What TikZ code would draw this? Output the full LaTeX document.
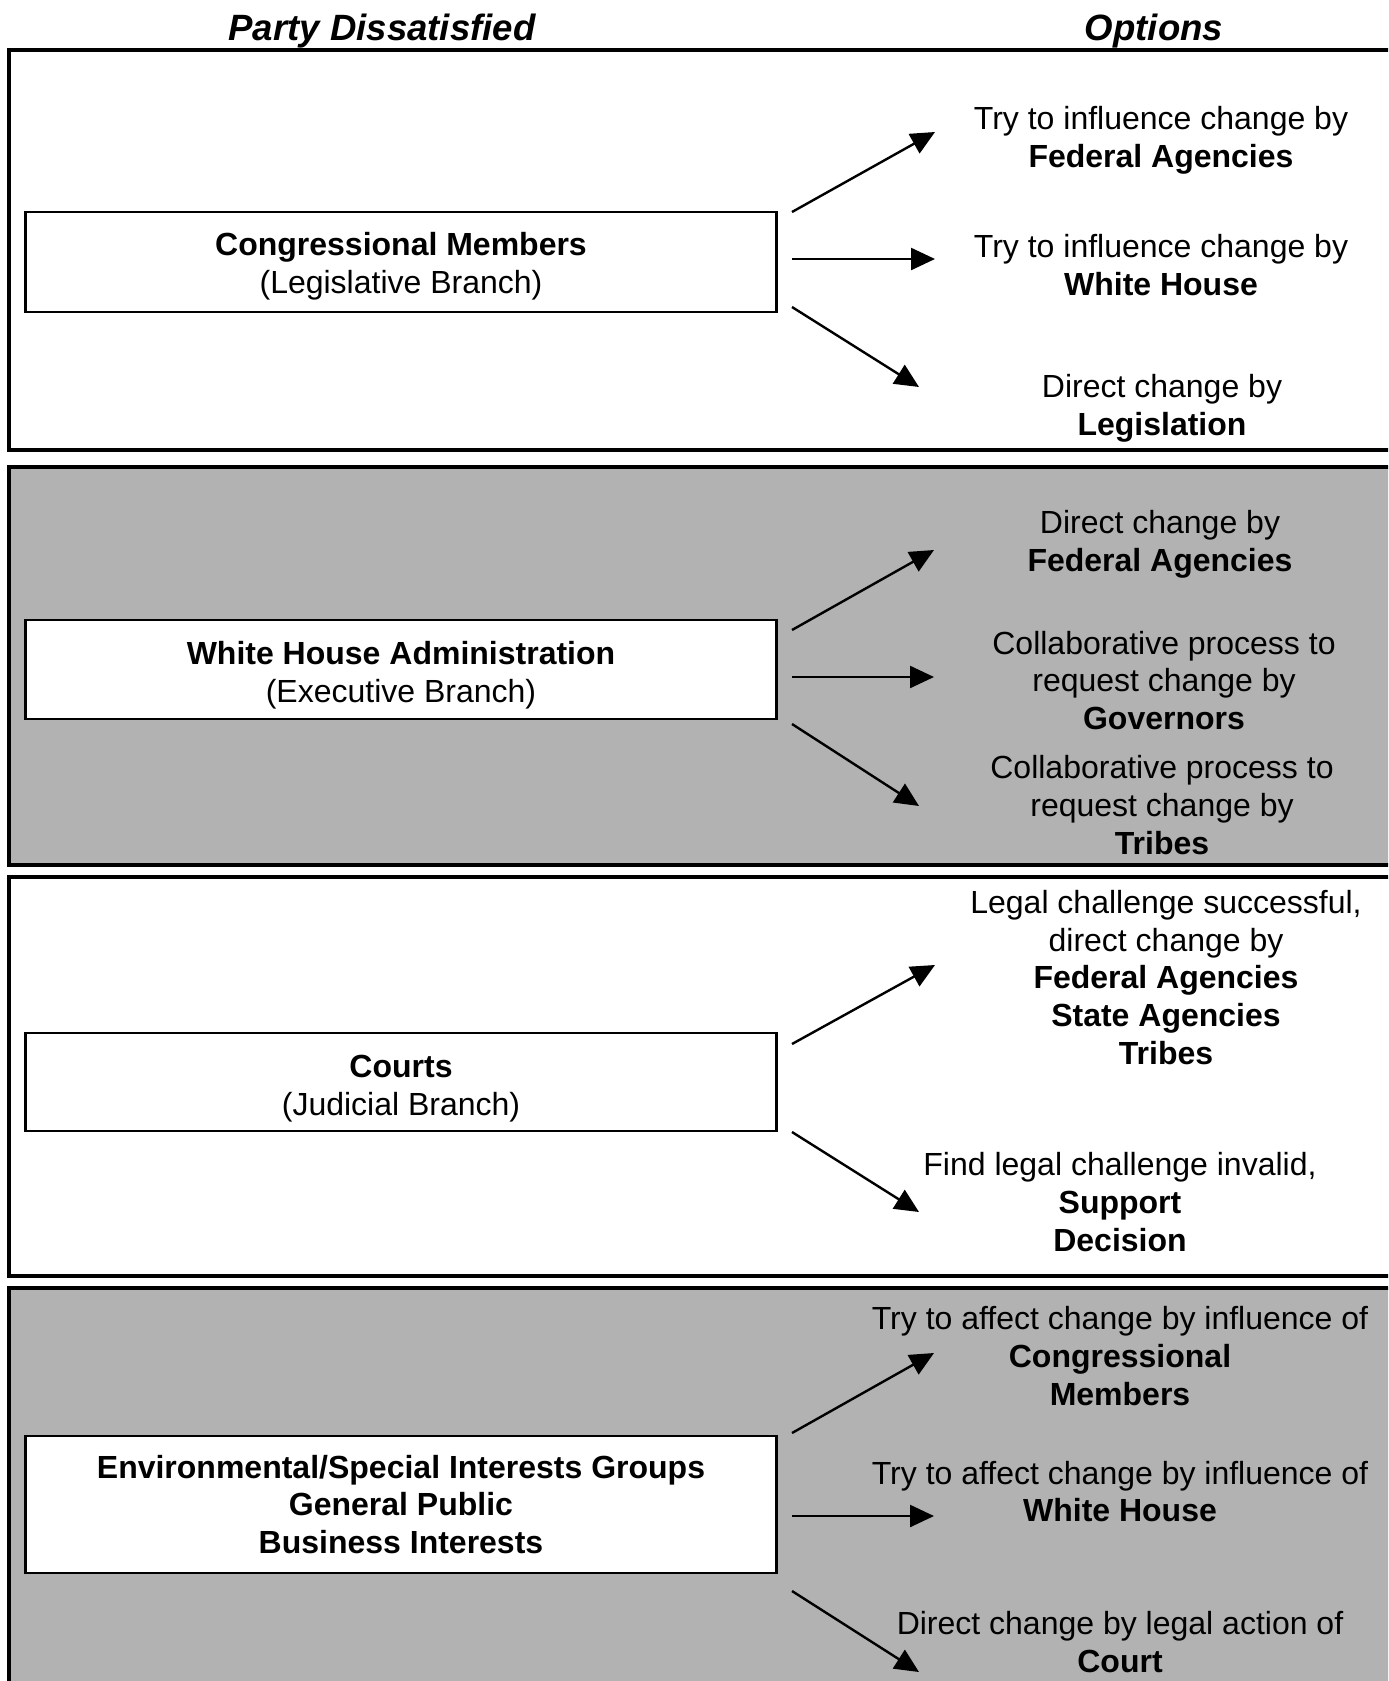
\documentclass[tikz,border=0pt]{standalone}
\usepackage{fontspec}
\setmainfont{Liberation Sans}
\usetikzlibrary{arrows.meta}
\definecolor{panelgray}{RGB}{178,178,178}
\begin{document}
\begin{tikzpicture}[x=0.5pt,y=-0.5pt,
  every node/.style={font=\fontsize{16pt}{18.8pt}\selectfont, inner sep=0pt, align=center},
  panel/.style={draw=black, line width=1.6pt},
  graypanel/.style={panel, fill=panelgray},
  party/.style={draw=black, fill=white, line width=1.4pt, minimum width=375.5pt},
  link/.style={line width=1.2pt, -{Triangle[length=12pt,width=11pt]}},
  head/.style={font=\fontsize{18.3pt}{21pt}\selectfont\bfseries\itshape}]
\useasboundingbox (0,0) rectangle (1388,1681);
\clip (0,0) rectangle (1388,1681);
% panels
\draw[panel] (9,50) rectangle (1410,450);
\draw[graypanel] (9,467) rectangle (1410,865);
\draw[panel] (9,877) rectangle (1410,1276);
\draw[graypanel] (9,1288) rectangle (1410,1710);
% headings
\node[head] (h1) at (382,31) {Party Dissatisfied};
\node[head] (h2) at (1154,31) {Options};
% party boxes
\node[party, minimum height=50pt] (b1) at (401,262) {};
\node (b1t) at (401,266.5) {\textbf{Congressional Members}\\(Legislative Branch)};
\node[party, minimum height=49.5pt] (b2) at (401,669.5) {};
\node (b2t) at (401,675) {\textbf{White House Administration}\\(Executive Branch)};
\node[party, minimum height=49pt] (b3) at (401,1082) {};
\node (b3t) at (401,1088.5) {\textbf{Courts}\\(Judicial Branch)};
\node[party, minimum height=68.5pt] (b4) at (401,1504.5) {};
\node (b4t) at (401,1504.5) {\textbf{Environmental/Special Interests Groups}\\\textbf{General Public}\\\textbf{Business Interests}};
% options
\node (o11) at (1161,140) {Try to influence change by\\\textbf{Federal Agencies}};
\node (o12) at (1161,265) {Try to influence change by\\\textbf{White House}};
\node (o13) at (1162,408.5) {Direct change by\\\textbf{Legislation}};
\node (o21) at (1160,544) {Direct change by\\\textbf{Federal Agencies}};
\node (o22) at (1164,680.5) {Collaborative process to\\request change by\\\textbf{Governors}};
\node (o23) at (1162,805) {Collaborative process to\\request change by\\\textbf{Tribes}};
\node (o31) at (1166,977.5) {Legal challenge successful,\\direct change by\\\textbf{Federal Agencies}\\\textbf{State Agencies}\\\textbf{Tribes}};
\node (o32) at (1120,1202) {Find legal challenge invalid,\\\textbf{Support}\\\textbf{Decision}};
\node (o41) at (1120,1356) {Try to affect change by influence of\\\textbf{Congressional}\\\textbf{Members}};
\node (o42) at (1120,1491.5) {Try to affect change by influence of\\\textbf{White House}};
\node (o43) at (1120,1642) {Direct change by legal action of\\\textbf{Court}};
% arrow end points
\coordinate (s11) at (792,212); \coordinate (t11) at (935,132);
\coordinate (s12) at (792,259); \coordinate (t12) at (935,259);
\coordinate (s13) at (792,307); \coordinate (t13) at (919,387);
\coordinate (s21) at (792,630); \coordinate (t21) at (934,550);
\coordinate (s22) at (792,677); \coordinate (t22) at (934,677);
\coordinate (s23) at (792,724); \coordinate (t23) at (919,806);
\coordinate (s31) at (792,1044); \coordinate (t31) at (935,965);
\coordinate (s32) at (792,1132); \coordinate (t32) at (919,1212);
\coordinate (s41) at (792,1433); \coordinate (t41) at (934,1353);
\coordinate (s42) at (792,1516); \coordinate (t42) at (934,1516);
\coordinate (s43) at (792,1591); \coordinate (t43) at (919,1672);
\foreach \k in {11,12,13,21,22,23,31,32,41,42,43}
  \draw[link] (s\k) -- (t\k);
\end{tikzpicture}
\end{document}
